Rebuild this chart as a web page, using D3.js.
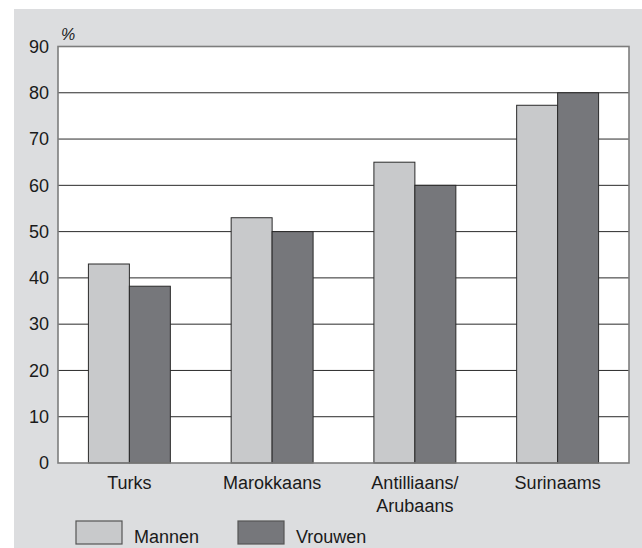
<!DOCTYPE html>
<html>
<head>
<meta charset="utf-8">
<script src="https://cdn.jsdelivr.net/npm/d3@7"></script>
<style>
  body { margin: 0; background: #fff; }
  text { font-family: "Liberation Sans", Arial, sans-serif; fill: #1a1a1a; }
</style>
</head>
<body>
<div id="chart"></div>
<script>
var svgWidth = 642;
var svgHeight = 548;

// data
var categories = ["Turks", "Marokkaans", "Antilliaans", "Surinaams"];
var categoryLabels = [["Turks"], ["Marokkaans"], ["Antilliaans/", "Arubaans"], ["Surinaams"]];
var series = ["Mannen", "Vrouwen"];
var mannen = [43, 53, 65, 77.3];
var vrouwen = [38.2, 50, 60, 80];
var yTicks = [0, 10, 20, 30, 40, 50, 60, 70, 80, 90];

var colors = { Mannen: "#c8c9cb", Vrouwen: "#76777b" };

var margin = { top: 46.5, right: 13, bottom: 85, left: 58 };
var width = svgWidth - margin.left - margin.right;
var height = svgHeight - margin.top - margin.bottom;

var data = categories.map(function(c, i) {
  return { cat: c, label: categoryLabels[i], Mannen: mannen[i], Vrouwen: vrouwen[i] };
});

var svg = d3.select("#chart")
  .append("svg")
  .attr("width", svgWidth)
  .attr("height", svgHeight);

// grey panel behind everything
svg.append("rect")
  .attr("x", 14)
  .attr("y", 9)
  .attr("width", svgWidth - 14)
  .attr("height", svgHeight - 9)
  .attr("fill", "#dcdddf");

var chartGroup = svg.append("g")
  .attr("transform", `translate(${margin.left}, ${margin.top})`);

var x0 = d3.scaleBand()
  .domain(categories)
  .range([0, width])
  .paddingInner(0.426)
  .paddingOuter(0.213);

var x1 = d3.scaleBand()
  .domain(series)
  .range([0, x0.bandwidth()]);

var y = d3.scaleLinear()
  .domain([0, 90])
  .range([height, 0]);

// plot area
chartGroup.append("rect")
  .attr("width", width)
  .attr("height", height)
  .attr("fill", "#fff");

// gridlines
chartGroup.append("g")
  .selectAll("line")
  .data(yTicks.filter(d => d > 0 && d < 90))
  .enter()
  .append("line")
  .attr("x1", 0)
  .attr("x2", width)
  .attr("y1", d => y(d))
  .attr("y2", d => y(d))
  .attr("stroke", "#2a2a2a")
  .attr("stroke-width", 1);

// bars
var groups = chartGroup.append("g")
  .selectAll("g")
  .data(data)
  .enter()
  .append("g")
  .attr("transform", d => `translate(${x0(d.cat)}, 0)`);

groups.selectAll("rect")
  .data(d => series.map(s => ({ key: s, value: d[s] })))
  .enter()
  .append("rect")
  .attr("x", d => x1(d.key))
  .attr("y", d => y(d.value))
  .attr("width", x1.bandwidth())
  .attr("height", d => height - y(d.value))
  .attr("fill", d => colors[d.key])
  .attr("stroke", "#2a2a2a")
  .attr("stroke-width", 1);

// frame
chartGroup.append("rect")
  .attr("width", width)
  .attr("height", height)
  .attr("fill", "none")
  .attr("stroke", "#7d7d7d")
  .attr("stroke-width", 1.6);

// y axis labels
var leftAxis = d3.axisLeft(y)
  .tickValues(yTicks)
  .tickSize(0)
  .tickPadding(9);

var yAxis = chartGroup.append("g").call(leftAxis);
yAxis.select(".domain").remove();
yAxis.selectAll("text")
  .attr("font-size", 18)
  .attr("fill", "#1a1a1a")
  .style("font-family", "'Liberation Sans', Arial, sans-serif");

// unit
chartGroup.append("text")
  .attr("x", 3)
  .attr("y", -7)
  .attr("font-size", 16)
  .attr("font-style", "italic")
  .text("%");

// category labels
var catLabels = chartGroup.append("g")
  .selectAll("text")
  .data(data)
  .enter()
  .append("text")
  .attr("text-anchor", "middle")
  .attr("font-size", 18)
  .attr("transform", d => `translate(${x0(d.cat) + x0.bandwidth() / 2}, ${height + 26})`);

catLabels.selectAll("tspan")
  .data(d => d.label)
  .enter()
  .append("tspan")
  .attr("x", 0)
  .attr("dy", (d, i) => i === 0 ? 0 : 23)
  .text(d => d);

// legend
var legend = svg.append("g")
  .attr("transform", "translate(76, 521)");

var items = legend.selectAll("g")
  .data(series)
  .enter()
  .append("g")
  .attr("transform", (d, i) => `translate(${i * 162}, 0)`);

items.append("rect")
  .attr("width", 46)
  .attr("height", 23)
  .attr("fill", d => colors[d])
  .attr("stroke", "#555")
  .attr("stroke-width", 1.2);

items.append("text")
  .attr("x", 58)
  .attr("y", 22)
  .attr("font-size", 18)
  .text(d => d);
</script>
</body>
</html>
